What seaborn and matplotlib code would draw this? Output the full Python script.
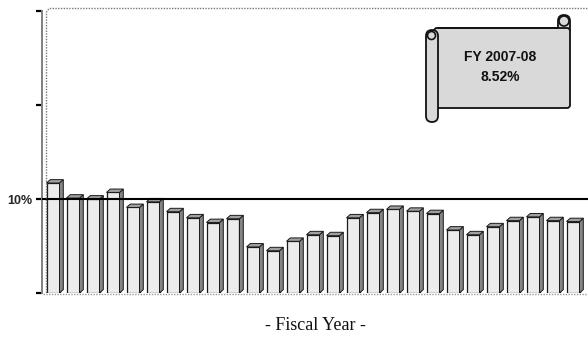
import matplotlib
matplotlib.use("Agg")
import matplotlib.pyplot as plt
import seaborn as sns
import pandas as pd
from matplotlib.patches import Polygon, FancyBboxPatch, Ellipse
from matplotlib.lines import Line2D

# ---- data ----
years = [f"{y}-{str(y + 1)[-2:]}" for y in range(1981, 2008)]
values = [11.7, 10.1, 10.0, 10.7, 9.1, 9.7, 8.65, 8.0, 7.5, 7.9,
          4.9, 4.5, 5.5, 6.2, 6.1, 8.0, 8.55, 8.9, 8.7, 8.45,
          6.7, 6.2, 7.05, 7.7, 8.1, 7.7, 7.6]
ytick_vals = [0, 10, 20, 30]
ytick_labels = ["", "10%", "", ""]
ref_line = 10
note_lines = ["FY 2007-08", "8.52%"]
xlabel = "- Fiscal Year -"

df = pd.DataFrame({"year": years, "value": values})

sns.set_theme(style="white")
plt.rcParams["font.family"] = ["Liberation Sans", "DejaVu Sans"]

W, H = 588, 338
fig = plt.figure(figsize=(W / 100, H / 100), dpi=100)
ax = fig.add_axes([42 / W, (H - 293) / H, (588 - 42) / W, (293 - 11) / H])

sns.barplot(data=df, x="year", y="value", ax=ax, color="#ececec",
            width=0.65, edgecolor="#1a1a1a", linewidth=0.9, saturation=1)

dx, dy = 0.19, 0.36
for p in ax.patches:
    x0, w, h = p.get_x(), p.get_width(), p.get_height()
    side = Polygon([(x0 + w, 0), (x0 + w + dx, dy), (x0 + w + dx, h + dy), (x0 + w, h)],
                   closed=True, facecolor="#858585", edgecolor="#1a1a1a", lw=0.7, zorder=1.9)
    top = Polygon([(x0, h), (x0 + dx, h + dy), (x0 + w + dx, h + dy), (x0 + w, h)],
                  closed=True, facecolor="#a0a0a0", edgecolor="#1a1a1a", lw=0.7, zorder=1.9)
    ax.add_patch(side)
    ax.add_patch(top)

ax.axhline(ref_line, color="black", lw=1.5, zorder=5)

ax.set_xlim(-0.55, 26.75)
ax.set_ylim(0, 30)
ax.set_yticks(ytick_vals)
ax.set_yticklabels(ytick_labels, fontsize=9, fontweight="bold")
ax.tick_params(axis="y", which="both", left=True, length=4, width=1.6, color="black", pad=3)
ax.tick_params(axis="x", bottom=False, labelbottom=False)
ax.set_xlabel(xlabel, family="Liberation Serif", fontsize=13, labelpad=17, color="#111111")
ax.set_ylabel("")

for s in ["top", "right", "bottom"]:
    ax.spines[s].set_visible(False)
ax.spines["left"].set_color("#808080")
ax.spines["left"].set_linewidth(1.4)

def px(x, y):
    return (x / W, 1 - y / H)

# back wall dotted edges
fig.add_artist(Line2D(*zip(px(46.5, 293), px(46.5, 12), px(49, 8.5), px(588, 8.5)),
                      color="#777777", lw=1.0, ls=(0, (1, 1))))
fig.add_artist(Line2D(*zip(px(43, 294), px(588, 294)),
                      color="#999999", lw=1.0, ls=(0, (1, 1))))

# scroll annotation
fc = "#d9d9d9"
ec = "#111111"
def fbox(x0, y0, x1, y1, r):
    (fx0, fy1) = px(x0, y1)
    (fx1, fy0) = px(x1, y0)
    return FancyBboxPatch((fx0, fy1), fx1 - fx0, fy0 - fy1,
                          boxstyle=f"round,pad=0,rounding_size={r / W}",
                          transform=fig.transFigure, facecolor=fc, edgecolor=ec, lw=1.3,
                          mutation_aspect=W / H)

fig.add_artist(fbox(558, 15, 570, 34, 6))
fig.add_artist(fbox(434, 28, 570, 108, 3))
fig.add_artist(fbox(426, 30, 438, 122, 6))
for cx, cy, r in [(431.5, 35.5, 4.0), (564, 21, 5.0)]:
    fig.add_artist(Ellipse(px(cx, cy), 2 * r / W, 2 * r / H, transform=fig.transFigure,
                           facecolor=fc, edgecolor=ec, lw=1.2))
fig.add_artist(Line2D(*zip(px(438, 28), px(558, 28)), color=ec, lw=1.3))

fig.text(*px(500, 57), note_lines[0], ha="center", va="center",
         fontsize=10, fontweight="bold", color="#111111")
fig.text(*px(500, 77), note_lines[1], ha="center", va="center",
         fontsize=10, fontweight="bold", color="#111111")

fig.savefig("out.png", dpi=100)
